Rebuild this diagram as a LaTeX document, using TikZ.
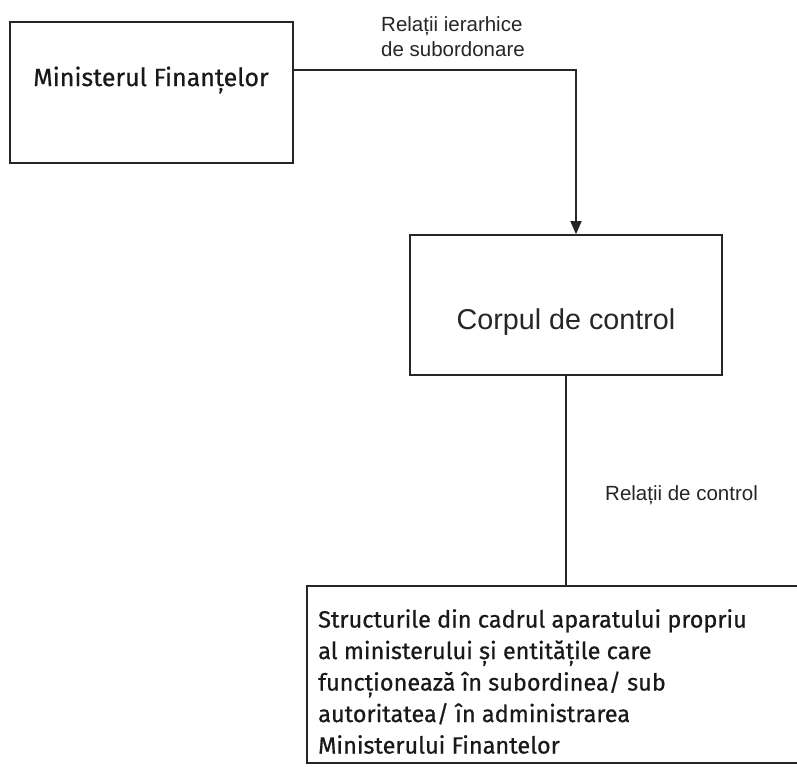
\documentclass[tikz,border=0pt]{standalone}
\usepackage{fontspec}
\setmainfont{Fira Sans}[FakeBold=0.6,AutoFakeBold=0.6]
\newfontfamily\arialf{Liberation Sans}
\usetikzlibrary{arrows.meta,calc}
\begin{document}
\begin{tikzpicture}[x=1pt,y=-1pt,
  boxst/.style={draw=black!85,line width=1.6pt,rectangle,inner sep=0pt},
  conn/.style={draw=black!85,line width=1.6pt},
  lbl/.style={font=\arialf\fontsize{20.5}{25}\selectfont,align=left,inner sep=0pt,text=black!85},
  hum/.style={inner sep=0pt,text=black!90}]
\useasboundingbox (0,0) rectangle (797,767);
\fill[white] (0,0) rectangle (797,767);
% boxes
\node[boxst,minimum width=283pt,minimum height=141pt] (box1) at (151.5,92.5) {};
\node[hum,font=\fontsize{25}{30}\selectfont] (t1) at (151,80) {Ministerul Finanțelor};
\node[boxst,minimum width=312pt,minimum height=140pt] (box2) at (566,305) {};
\node[inner sep=0pt,font=\arialf\fontsize{28.7}{34}\selectfont,text=black!85] (t2) at (566,322) {Corpul de control};
\node[boxst,minimum width=540pt,minimum height=177pt] (box3) at (577,674.5) {};
\node[hum,anchor=north west,align=left,font=\fontsize{23.5}{31.5}\selectfont] (t3) at (318,609)
 {Structurile din cadrul aparatului propriu\\al ministerului și entitățile care\\funcționează în subordinea/ sub\\autoritatea/ în administrarea\\Ministerului Finantelor};
% connectors
\coordinate (bend) at (576,70);
\draw[conn,-{Triangle[length=13pt,width=11pt]}] (box1.east |- bend) -| (box2.north -| bend);
\draw[conn] (box2.south) -- (box2.south |- box3.north);
% labels
\node[lbl,anchor=west] (l1) at (381,37) {Relații ierarhice\\de subordonare};
\node[lbl,anchor=west] (l2) at (605,495) {Relații de control};
\end{tikzpicture}
\end{document}
